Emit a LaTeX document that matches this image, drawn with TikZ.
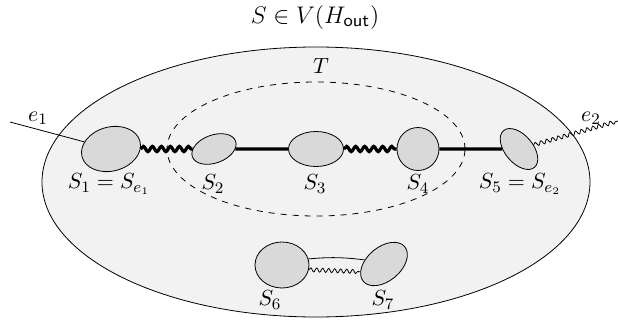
\documentclass[tikz,border=0pt]{standalone}
\usepackage{tikz}
\usetikzlibrary{shapes.geometric,decorations.pathmorphing,positioning}

\begin{document}
\begin{tikzpicture}[x=0.5pt,y=-0.5pt, font=\fontsize{11}{13}\selectfont,
  region/.style={draw, ellipse, inner sep=0pt},
  blob/.style={draw, ellipse, fill=gray!30, inner sep=0pt},
  fatline/.style={line width=1.6pt},
  fatsnake/.style={line width=1.6pt, decorate, decoration={snake, segment length=4.5pt, amplitude=1.3pt}},
  thinsnake/.style={decorate, decoration={snake, segment length=3pt, amplitude=1pt}}
]
\useasboundingbox (0,0) rectangle (618,322);
\node at (315,17) (title) {\fontsize{13}{15}\selectfont $S \in V(H_{\mathsf{out}})$};
\node[region, fill=gray!10, minimum width=274pt, minimum height=270pt/2] (Hout) at (316,182) {};
\node[region, dashed, minimum width=149pt, minimum height=67pt] (T) at (316,149) {};
\node at (321,66) (Tlabel) {$T$};

% blobs along the main path
\node[blob, minimum width=30pt, minimum height=22pt, rotate=15] (S1) at (111,149) {};
\node[blob, minimum width=23pt, minimum height=14pt, rotate=20] (S2) at (214,149) {};
\node[blob, minimum width=27.5pt, minimum height=17.5pt] (S3) at (316,149) {};
\node[blob, minimum width=21pt, minimum height=21.5pt] (S4) at (418,149) {};
\node[blob, minimum width=24pt, minimum height=14pt, rotate=-50] (S5) at (519,149) {};
\node[blob, minimum width=27pt, minimum height=23pt] (S6) at (282,265) {};
\node[blob, minimum width=27pt, minimum height=17pt, rotate=40] (S7) at (384,264) {};

\node at (109,184) (l1) {$S_1 = S_{e_1}$};
\node at (213,184) (l2) {$S_2$};
\node at (315,184) (l3) {$S_3$};
\node at (418,184) (l4) {$S_4$};
\node at (520,184) (l5) {$S_5 = S_{e_2}$};
\node at (270,300) (l6) {$S_6$};
\node at (383,300) (l7) {$S_7$};

\coordinate (e1end) at (10,122);
\coordinate (e2end) at (618,121);
\node at (38,118) (e1) {$e_1$};
\node at (591,118) (e2) {$e_2$};

\draw (e1end) -- (S1);
\draw[fatsnake] (S1) -- (S2);
\draw[fatline] (S2) -- (S3);
\draw[fatsnake] (S3) -- (S4);
\draw[fatline] (S4) -- (S5);
\draw[thinsnake] (S5) -- (e2end);
\draw (S6.13) to[bend left=6] (S7.128);
\draw[thinsnake] (S6.-10) -- (S7.158);
\end{tikzpicture}
\end{document}
